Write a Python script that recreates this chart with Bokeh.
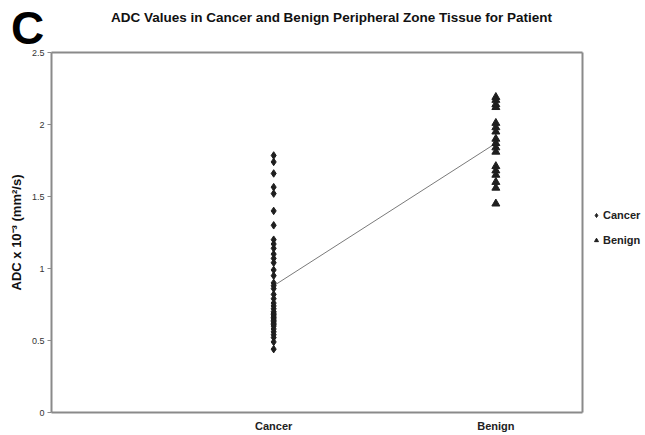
from bokeh.plotting import figure
from bokeh.models import (Range1d, FixedTicker, Label, Legend, LegendItem,
                          LinearAxis)
from bokeh.embed import file_html
from bokeh.resources import INLINE

# ---- data ----
groups = ["Cancer", "Benign"]
group_pos = [1, 2]
cancer_adc = [1.785, 1.74, 1.66, 1.565, 1.52, 1.40, 1.30, 1.20, 1.17, 1.14,
              1.10, 1.07, 1.04, 0.99, 0.95, 0.90, 0.88, 0.86, 0.82, 0.79,
              0.76, 0.74, 0.72, 0.70, 0.69, 0.68, 0.67, 0.66, 0.65, 0.64,
              0.63, 0.62, 0.61, 0.60, 0.58, 0.56, 0.54, 0.52, 0.49, 0.44]
benign_adc = [2.19, 2.17, 2.14, 2.12, 2.01, 1.98, 1.95, 1.90, 1.87, 1.84,
              1.81, 1.71, 1.68, 1.65, 1.60, 1.56, 1.45]
mean_adc = [0.88, 1.87]
y_ticks = [0, 0.5, 1, 1.5, 2, 2.5]
y_tick_labels = ["0", "0.5", "1", "1.5", "2", "2.5"]
title_text = "ADC Values in Cancer and Benign Peripheral Zone Tissue for Patient"
panel_letter = "C"

FONT = "Liberation Sans"
W, H = 645, 435
# plot box (in data units) and the page area around it
box_x = (0.0, 2.39)
box_y = (y_ticks[0], y_ticks[-1])
px_per_x = 531 / (box_x[1] - box_x[0])
px_per_y = 360 / (box_y[1] - box_y[0])
x_range = Range1d(box_x[0] - 51 / px_per_x, box_x[1] + 63 / px_per_x)
y_range = Range1d(box_y[0] - 23 / px_per_y, box_y[1] + 52 / px_per_y)

AX = "#8a8a8a"

p = figure(width=W, height=H, output_backend="svg", toolbar_location=None,
           x_range=x_range, y_range=y_range,
           min_border=0, min_border_left=0, min_border_right=0,
           min_border_top=0, min_border_bottom=0)
p.background_fill_color = "white"
p.border_fill_color = "white"
p.outline_line_color = None
p.xgrid.visible = False
p.ygrid.visible = False

# mean line
p.line(group_pos, mean_adc, line_color="#7a7a7a", line_width=1)

r_c = p.scatter([group_pos[0]] * len(cancer_adc), cancer_adc, marker="diamond",
                size=7.5, color="#1e1e1e")
r_b = p.scatter([group_pos[1]] * len(benign_adc), benign_adc, marker="triangle",
                size=8, color="#1e1e1e")

# left (value) axis, fixed at the plot box's left edge
ya = p.yaxis[0]
ya.fixed_location = box_x[0]
ya.bounds = box_y
ya.ticker = FixedTicker(ticks=y_ticks)
ya.major_label_overrides = {t: l for t, l in zip(y_ticks, y_tick_labels)}
ya.minor_tick_line_color = None
ya.major_tick_out = 4
ya.major_tick_in = 0
ya.major_tick_line_color = AX
ya.axis_line_color = AX
ya.axis_line_width = 2
ya.major_label_text_font = FONT
ya.major_label_text_font_size = "9px"
ya.major_label_text_color = "#333333"
ya.major_label_standoff = 3
ya.axis_label = "ADC x 10\u207b\u00b3 (mm\u00b2/s)"
ya.axis_label_text_font = FONT
ya.axis_label_text_font_style = "bold"
ya.axis_label_text_font_size = "13px"
ya.axis_label_text_color = "#111111"
ya.axis_label_standoff = 5

# bottom (category) axis
xa = p.xaxis[0]
xa.fixed_location = box_y[0]
xa.bounds = box_x
xa.ticker = FixedTicker(ticks=group_pos)
xa.major_label_overrides = {pos: g for pos, g in zip(group_pos, groups)}
xa.minor_tick_line_color = None
xa.major_tick_line_color = None
xa.major_tick_out = 0
xa.major_tick_in = 0
xa.axis_line_color = AX
xa.axis_line_width = 2
xa.major_label_text_font = FONT
xa.major_label_text_font_style = "bold"
xa.major_label_text_font_size = "11px"
xa.major_label_text_color = "#222222"
xa.major_label_standoff = 7

# top and right edges of the plot box
top_ax = LinearAxis(fixed_location=box_y[1], bounds=box_x,
                    ticker=FixedTicker(ticks=[]), axis_line_color=AX,
                    axis_line_width=2, major_tick_line_color=None,
                    minor_tick_line_color=None, major_label_text_font_size="0px")
right_ax = LinearAxis(fixed_location=box_x[1], bounds=box_y,
                      ticker=FixedTicker(ticks=[]), axis_line_color=AX,
                      axis_line_width=2, major_tick_line_color=None,
                      minor_tick_line_color=None, major_label_text_font_size="0px")
p.add_layout(top_ax, "above")
p.add_layout(right_ax, "right")

# title and panel letter
p.add_layout(Label(x=331, y=H - 17, x_units="screen", y_units="screen",
                   text=title_text, text_font=FONT, text_font_style="bold",
                   text_font_size="13.5px", text_align="center",
                   text_baseline="middle", text_color="#111111"))
p.add_layout(Label(x=27, y=H - 27, x_units="screen", y_units="screen",
                   text=panel_letter, text_font=FONT, text_font_style="bold",
                   text_font_size="46px", text_align="center",
                   text_baseline="middle", text_color="#000000"))

legend = Legend(items=[LegendItem(label=groups[0], renderers=[r_c]),
                       LegendItem(label=groups[1], renderers=[r_b])],
                location=(591, 188), orientation="vertical",
                border_line_color=None, background_fill_alpha=0,
                label_text_font=FONT, label_text_font_style="bold",
                label_text_font_size="11px", label_text_color="#222222",
                glyph_width=10, glyph_height=10, label_standoff=2,
                spacing=11, padding=0, margin=0, label_height=14)
p.add_layout(legend, "center")

open("out.html", "w").write(file_html(p, INLINE))
